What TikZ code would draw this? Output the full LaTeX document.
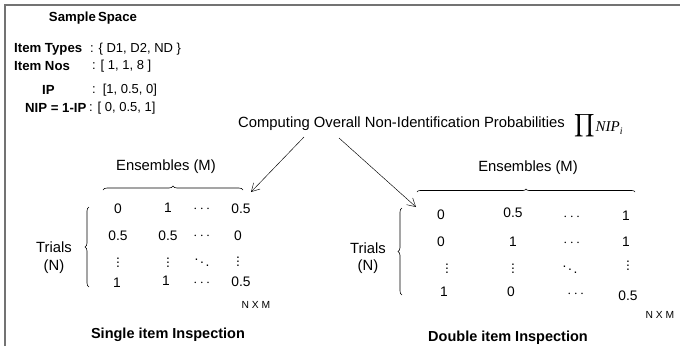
\documentclass[tikz,border=0pt]{standalone}
\usepackage{amsmath}
\usepackage{fontspec}
\setmainfont{Liberation Sans}
\newfontfamily\timesit{Liberation Serif}
\usetikzlibrary{arrows.meta,decorations.pathreplacing}
\begin{document}
\begin{tikzpicture}[x=1pt,y=-1pt,
  lbl/.style={inner sep=0pt,font=\fontsize{14.8}{17}\selectfont},
  val/.style={inner sep=0pt,font=\fontsize{13}{15}\selectfont},
  ent/.style={inner sep=0pt,font=\fontsize{13.8}{16}\selectfont},
  hdr/.style={inner sep=0pt,font=\fontsize{13.2}{15}\selectfont\bfseries},
  sml/.style={inner sep=0pt,font=\fontsize{10.3}{12}\selectfont},
  ttl/.style={inner sep=0pt,font=\fontsize{14.5}{17}\selectfont\bfseries},
  brc/.style={decorate,decoration={brace,amplitude=4pt},line width=0.6pt},
  arr/.style={line width=0.45pt,-{Straight Barb[length=8pt,width=9pt]}}]
\useasboundingbox (0,0) rectangle (680,346);
\draw[black!55,line width=2pt] (5,346) -- (5,5) -- (680,5);
% sample space
\node[hdr] (ss) at (93,18) {Sample\,Space};
\node[hdr,anchor=west] (it) at (14,49) {Item Types};
\node[val,anchor=west] (itv) at (90,49) {: \{ D1, D2, ND \}};
\node[hdr,anchor=west] (in) at (14,66) {Item Nos};
\node[val,anchor=west] (inv) at (92,66) {: [ 1, 1, 8 ]};
\node[hdr,anchor=west] (ip) at (42,90) {IP};
\node[val,anchor=west] (ipv) at (92,90) {:\, [1, 0.5, 0]};
\node[hdr,anchor=west] (nip) at (25,108) {NIP = 1-IP};
\node[val,anchor=west] (nipv) at (89,108) {: [ 0, 0.5, 1]};
% computing
\node[lbl,anchor=west] (comp) at (238,124) {Computing Overall Non-Identification Probabilities};
\node[inner sep=0pt,anchor=base west] (prod) at (574,131)
  {{\fontsize{10}{12}\selectfont\raisebox{1pt}{\scalebox{1.6}{$\displaystyle\prod$}}}\kern1pt{\fontsize{15}{17}\selectfont\timesit\itshape NIP}\raisebox{-3pt}{\fontsize{10}{12}\selectfont\timesit\itshape i}};
\coordinate (a1) at (304,137);
\coordinate (a2) at (339,138);
\coordinate (t1) at (251,192);
\coordinate (t2) at (416,207);
\draw[arr] (a1) -- (t1);
\draw[arr] (a2) -- (t2);
% left matrix
\node[lbl] (ensL) at (166,167) {Ensembles (M)};
\coordinate (bL1) at (103,190);
\coordinate (bL2) at (243,190);
\draw[brc] (bL1) -- (bL2);
\coordinate (vL1) at (89,287);
\coordinate (vL2) at (89,207);
\draw[brc] (vL1) -- (vL2);
\node[lbl] (trL) at (54,247) {Trials};
\node[lbl] (nL) at (54,267) {(N)};
\node[ent] (l11) at (118,209) {0};
\node[ent] (l12) at (168,208) {1};
\node[ent] (l13) at (203,209) {$\cdots$};
\node[ent] (l14) at (241,209) {0.5};
\node[ent] (l21) at (118,236) {0.5};
\node[ent] (l22) at (168,236) {0.5};
\node[ent] (l23) at (203,236) {$\cdots$};
\node[ent] (l24) at (238,236) {0};
\node[ent] (l31) at (118,260) {$\vdots$};
\node[ent] (l32) at (168,260) {$\vdots$};
\node[ent] (l33) at (202,260) {$\ddots$};
\node[ent] (l34) at (238,259) {$\vdots$};
\node[ent] (l41) at (117,283) {1};
\node[ent] (l42) at (166,281) {1};
\node[ent] (l43) at (203,283) {$\cdots$};
\node[ent] (l44) at (241,282) {0.5};
\node[sml] (nmL) at (256,305) {N X M};
\node[ttl] (sgl) at (168,335) {Single item Inspection};
% right matrix
\node[lbl] (ensR) at (528,168) {Ensembles (M)};
\coordinate (bR1) at (417,192);
\coordinate (bR2) at (635,192);
\draw[brc,decoration={brace,amplitude=3pt}] (bR1) -- (bR2);
\coordinate (vR1) at (402,295);
\coordinate (vR2) at (402,208);
\draw[brc] (vR1) -- (vR2);
\node[lbl] (trR) at (368,248) {Trials};
\node[lbl] (nR) at (368,267) {(N)};
\node[ent] (r11) at (441,215) {0};
\node[ent] (r12) at (513,213) {0.5};
\node[ent] (r13) at (573,217) {$\cdots$};
\node[ent] (r14) at (626,216) {1};
\node[ent] (r21) at (441,242) {0};
\node[ent] (r22) at (513,242) {1};
\node[ent] (r23) at (573,243) {$\cdots$};
\node[ent] (r24) at (626,242) {1};
\node[ent] (r31) at (447,266) {$\vdots$};
\node[ent] (r32) at (513,266) {$\vdots$};
\node[ent] (r33) at (570,267) {$\ddots$};
\node[ent] (r34) at (628,263) {$\vdots$};
\node[ent] (r41) at (444,292) {1};
\node[ent] (r42) at (511,292) {0};
\node[ent] (r43) at (577,294) {$\cdots$};
\node[ent] (r44) at (628,296) {0.5};
\node[sml] (nmR) at (660,315) {N X M};
\node[ttl] (dbl) at (508,338) {Double item Inspection};
\end{tikzpicture}
\end{document}
